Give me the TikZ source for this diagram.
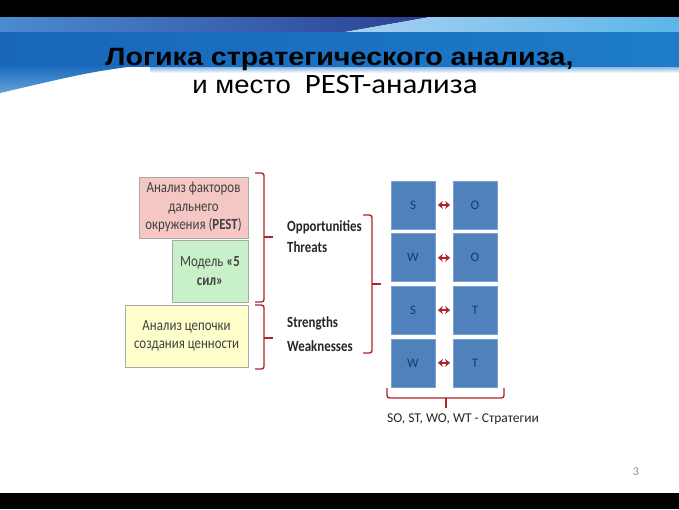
\documentclass[tikz,border=0pt]{standalone}
\usepackage{fontspec}
\setmainfont{Carlito}
\newfontfamily\arialfont{Liberation Sans}
\newfontfamily\boxfont{Carlito}[FakeStretch=0.83]
\usetikzlibrary{arrows.meta, positioning}

\definecolor{hdrMid}{HTML}{4A8BD2}
\definecolor{hdrNavy}{HTML}{2C3F92}
\definecolor{hdrPale}{HTML}{A9D1F1}
\definecolor{hdrSky}{HTML}{5BB6E9}
\definecolor{bandDark}{HTML}{1766BA}
\definecolor{bandBlue}{HTML}{1E7CC9}
\definecolor{pinkFill}{HTML}{F4C7C5}
\definecolor{greenFill}{HTML}{C9F1C9}
\definecolor{yellowFill}{HTML}{FFFFCC}
\definecolor{boxBorder}{HTML}{A9A9A9}
\definecolor{boxText}{HTML}{404040}
\definecolor{swotBlue}{HTML}{4F81BD}
\definecolor{swotBorder}{HTML}{7EA2CF}
\definecolor{swotText}{HTML}{1F3864}
\definecolor{braceRed}{HTML}{B0232A}

\tikzset{
    factorBox/.style={draw=boxBorder, line width=0.8pt, align=center, inner sep=0pt, text=boxText, font=\boxfont\fontsize{15.5}{18.5}\selectfont},
    swotBox/.style={draw=swotBorder, line width=0.8pt, fill=swotBlue, minimum width=44pt, minimum height=48pt, inner sep=0pt, text=swotText, font=\fontsize{13}{14}\selectfont},
    swotLink/.style={{Stealth[length=5pt, width=8pt]}-{Stealth[length=5pt, width=8pt]}, line width=1.5pt, draw=braceRed, shorten <=2.5pt, shorten >=2.5pt},
    braceLine/.style={draw=braceRed, line width=1.4pt, rounded corners=2.5pt},
    swotLabel/.style={anchor=west, inner sep=0pt, font=\boxfont\fontsize{15.5}{17}\selectfont\bfseries, text=black!85},
}
\newcommand{\drawBraceRight}[4]{
    % x of the hooks, top, bottom, middle
    \draw[braceLine] (#1,#2) -- (#1+9,#2) -- (#1+9,#3) -- (#1,#3);
    \draw[braceLine] (#1+9,#4) -- (#1+18,#4);
}
\newcommand{\drawBraceDown}[4]{
    % y of the hooks, left, right, middle
    \draw[braceLine] (#2,#1) -- (#2,#1+10) -- (#3,#1+10) -- (#3,#1);
    \draw[braceLine] (#4,#1+10) -- (#4,#1+20);
}

\begin{document}
\begin{tikzpicture}[x=1pt, y=-1pt]

    \useasboundingbox (0,0) rectangle (679,509);
    \fill[white] (0,0) rectangle (679,509);

    % header
    \fill[black] (0,0) rectangle (679,17);
    \fill[black] (0,493) rectangle (679,509);
    \shade[left color=hdrMid, right color=hdrNavy] (0,17) -- (430,17) -- (345,32) -- (0,32) -- cycle;
    \shade[left color=hdrPale, right color=hdrSky] (430,17) -- (679,17) -- (679,32) -- (345,32) -- cycle;
    \shade[top color=bandBlue!80, bottom color=white] (150,64) rectangle (679,73);
    \shade[left color=bandDark, right color=bandBlue] (0,32) rectangle (679,66);
    \shade[top color=bandDark, bottom color=bandBlue!70] (0,64) -- (150,64) .. controls (90,72) .. (0,93) -- cycle;

    \node[anchor=base, inner sep=0pt, font=\arialfont\fontsize{25}{30}\selectfont\bfseries] (title1) at (339.5,65) {\scalebox{1.147}[1]{Логика стратегического анализа,}};
    \node[anchor=base, inner sep=0pt, font=\fontsize{28}{30}\selectfont] (title2) at (335,93) {\scalebox{1.1}[1]{{\arialfont\fontsize{25}{30}\selectfont и место}\ \ PEST-анализа}};

    % factors
    \node[factorBox, fill=pinkFill, minimum width=109pt, minimum height=61pt] (pest) at (193.5,207.5) {Анализ факторов\\дальнего\\окружения (\textbf{PEST})};
    \node[factorBox, fill=greenFill, minimum width=76pt, minimum height=62pt] (forces) at (210,271) {Модель \textbf{«5}\\\textbf{сил»}};
    \node[factorBox, fill=yellowFill, minimum width=123pt, minimum height=62pt] (chain) at (186.5,336) {Анализ цепочки\\создания ценности};

    \drawBraceRight{255}{173}{302}{237}
    \drawBraceRight{255}{305}{369}{338}

    \node[swotLabel] (opp) at (287,227) {Opportunities};
    \node[swotLabel] (thr) at (287,247) {Threats};
    \node[swotLabel] (str) at (287,323) {Strengths};
    \node[swotLabel] (weak) at (287,346) {Weaknesses};

    \drawBraceRight{363}{215}{353}{284}

    % swot pairs
    \node[swotBox] (s1) at (413,205) {S};
    \node[swotBox] (o1) at (475,205) {O};
    \node[swotBox, below=4pt of s1] (w2) {W};
    \node[swotBox, below=4pt of o1] (o2) {O};
    \node[swotBox, below=3.5pt of w2] (s3) {S};
    \node[swotBox, below=3.5pt of o2] (t3) {T};
    \node[swotBox, below=4pt of s3] (w4) {W};
    \node[swotBox, below=4pt of t3] (t4) {T};

    \draw[swotLink] (s1) -- (o1);
    \draw[swotLink] (w2) -- (o2);
    \draw[swotLink] (s3) -- (t3);
    \draw[swotLink] (w4) -- (t4);

    \drawBraceDown{388}{387}{504}{446}
    \node[inner sep=0pt, font=\fontsize{13.5}{15}\selectfont, text=black!85] (strat) at (463,419) {SO, ST, WO, WT - Стратегии};

    \node[inner sep=0pt, font=\fontsize{12}{14}\selectfont, text=black!45] (page) at (636,472) {3};

\end{tikzpicture}
\end{document}
